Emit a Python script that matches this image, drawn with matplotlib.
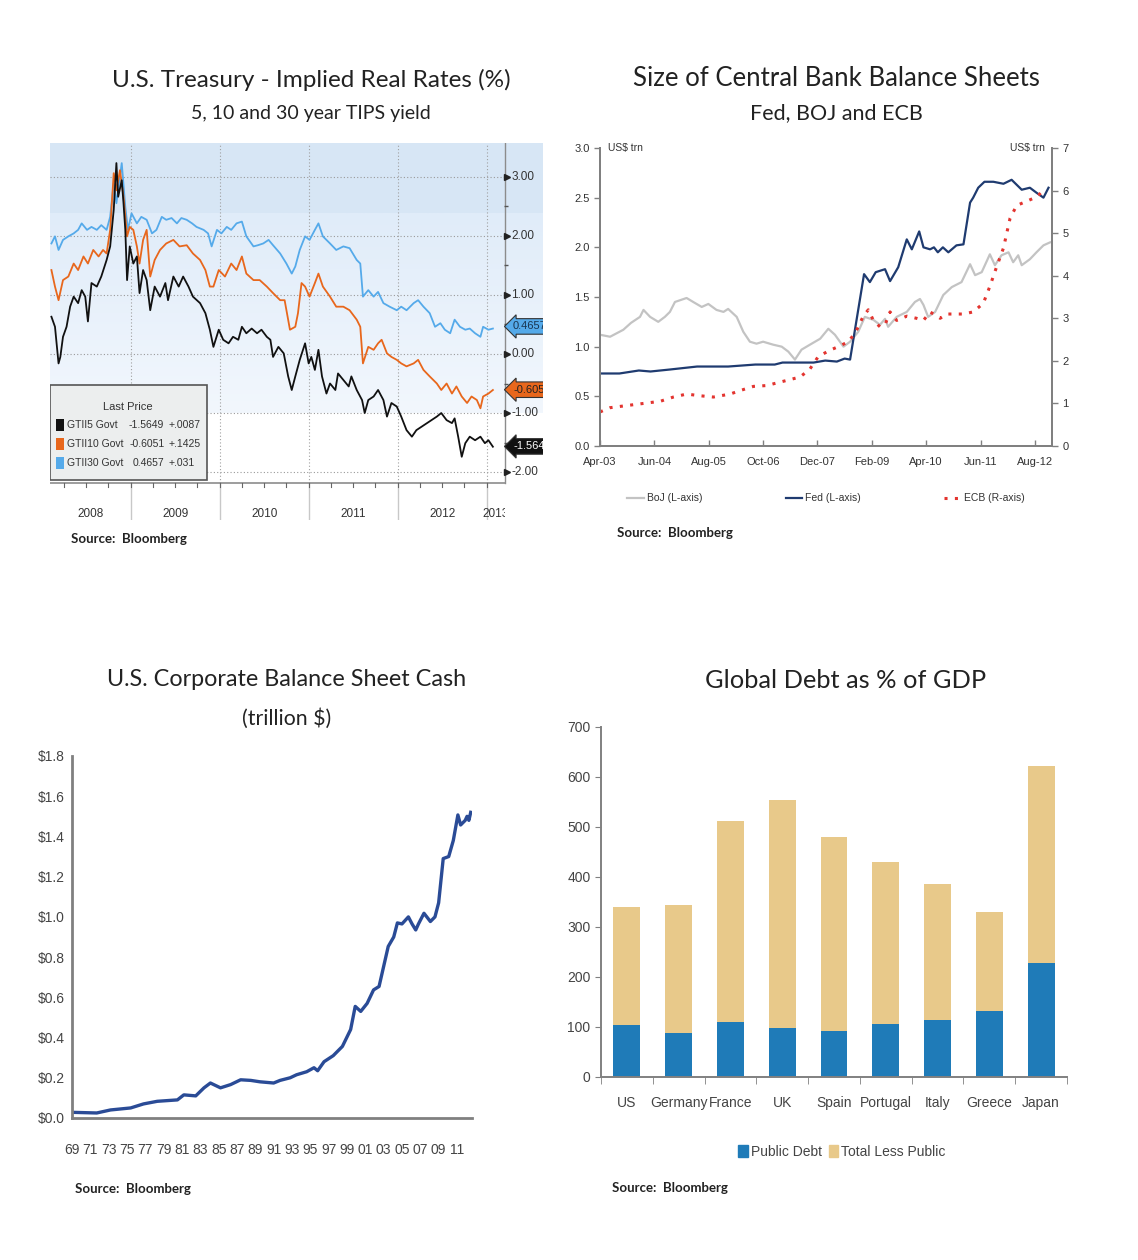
import numpy as np
import matplotlib
matplotlib.use("Agg")
import matplotlib.pyplot as plt
import matplotlib.patches as mpatches
from matplotlib.colors import LinearSegmentedColormap

# --- panel 1: TIPS yields (decimal years, %) ---
tips5_t = [2008.11, 2008.15, 2008.19, 2008.21, 2008.24, 2008.28, 2008.32, 2008.36, 2008.41, 2008.45,
           2008.49, 2008.52, 2008.56, 2008.62, 2008.67, 2008.73, 2008.77, 2008.81, 2008.84, 2008.86,
           2008.90, 2008.92, 2008.94, 2008.96, 2008.99, 2009.03, 2009.07, 2009.10, 2009.14, 2009.18,
           2009.22, 2009.27, 2009.33, 2009.39, 2009.42, 2009.48, 2009.54, 2009.59, 2009.65, 2009.70,
           2009.78, 2009.84, 2009.89, 2009.93, 2009.99, 2010.04, 2010.10, 2010.15, 2010.21, 2010.25,
           2010.30, 2010.36, 2010.42, 2010.47, 2010.53, 2010.57, 2010.60, 2010.66, 2010.72, 2010.77,
           2010.81, 2010.85, 2010.90, 2010.96, 2011.00, 2011.03, 2011.07, 2011.11, 2011.15, 2011.20,
           2011.24, 2011.30, 2011.33, 2011.39, 2011.45, 2011.48, 2011.54, 2011.60, 2011.63, 2011.67,
           2011.73, 2011.78, 2011.84, 2011.88, 2011.93, 2011.99, 2012.04, 2012.10, 2012.16, 2012.21,
           2012.27, 2012.33, 2012.38, 2012.44, 2012.49, 2012.55, 2012.61, 2012.64, 2012.68, 2012.72,
           2012.76, 2012.81, 2012.87, 2012.93, 2012.98, 2013.02, 2013.07]
tips5_v = [0.63, 0.46, -0.16, -0.05, 0.29, 0.46, 0.80, 0.97, 0.86, 1.08,
           0.97, 0.55, 1.20, 1.14, 1.31, 1.59, 1.82, 2.44, 3.23, 2.66,
           2.94, 2.55, 2.10, 1.25, 1.82, 1.53, 1.65, 1.03, 1.42, 1.25,
           0.74, 1.14, 0.97, 1.20, 0.91, 1.31, 1.14, 1.31, 1.14, 0.97,
           0.86, 0.69, 0.41, 0.12, 0.41, 0.24, 0.18, 0.29, 0.24, 0.46,
           0.35, 0.43, 0.35, 0.41, 0.29, 0.24, -0.05, 0.12, 0.01, -0.38,
           -0.61, -0.38, -0.10, 0.18, -0.16, -0.05, -0.27, 0.07, -0.38, -0.67,
           -0.50, -0.61, -0.33, -0.44, -0.55, -0.38, -0.61, -0.78, -1.00, -0.78,
           -0.72, -0.61, -0.78, -1.06, -0.83, -0.89, -1.06, -1.29, -1.40, -1.29,
           -1.23, -1.17, -1.12, -1.06, -1.00, -1.12, -1.17, -1.09, -1.40, -1.74,
           -1.51, -1.40, -1.46, -1.40, -1.51, -1.46, -1.57]

tips10_t = [2008.11, 2008.15, 2008.19, 2008.24, 2008.30, 2008.36, 2008.41, 2008.47, 2008.52, 2008.58,
            2008.64, 2008.69, 2008.73, 2008.77, 2008.81, 2008.84, 2008.88, 2008.92, 2008.96, 2008.99,
            2009.03, 2009.07, 2009.10, 2009.14, 2009.18, 2009.22, 2009.27, 2009.33, 2009.40, 2009.48,
            2009.55, 2009.63, 2009.70, 2009.78, 2009.84, 2009.89, 2009.93, 2009.99, 2010.06, 2010.13,
            2010.19, 2010.25, 2010.30, 2010.38, 2010.45, 2010.53, 2010.60, 2010.68, 2010.73, 2010.79,
            2010.85, 2010.88, 2010.92, 2010.96, 2011.01, 2011.07, 2011.11, 2011.16, 2011.24, 2011.31,
            2011.39, 2011.46, 2011.54, 2011.58, 2011.61, 2011.67, 2011.73, 2011.78, 2011.82, 2011.88,
            2011.93, 2011.99, 2012.04, 2012.10, 2012.18, 2012.23, 2012.29, 2012.36, 2012.44, 2012.49,
            2012.55, 2012.61, 2012.66, 2012.72, 2012.78, 2012.83, 2012.89, 2012.93, 2012.96, 2013.02,
            2013.07]
tips10_v = [1.42, 1.14, 0.91, 1.25, 1.31, 1.53, 1.42, 1.65, 1.53, 1.76,
            1.65, 1.76, 1.70, 2.10, 3.06, 2.77, 3.11, 2.66, 1.99, 2.15,
            2.10, 1.82, 1.53, 1.93, 2.10, 1.31, 1.59, 1.76, 1.87, 1.93,
            1.82, 1.84, 1.70, 1.59, 1.42, 1.14, 1.14, 1.42, 1.31, 1.53,
            1.42, 1.65, 1.36, 1.25, 1.25, 1.14, 1.03, 0.91, 0.91, 0.41,
            0.46, 0.69, 1.20, 1.14, 0.97, 1.20, 1.36, 1.14, 0.97, 0.80,
            0.80, 0.74, 0.58, 0.46, -0.16, 0.12, 0.07, 0.18, 0.24, 0.01,
            -0.05, -0.10, -0.16, -0.21, -0.16, -0.10, -0.27, -0.38, -0.50, -0.61,
            -0.50, -0.67, -0.55, -0.72, -0.83, -0.72, -0.78, -0.92, -0.72, -0.67,
            -0.61]

tips30_t = [2008.11, 2008.15, 2008.19, 2008.24, 2008.30, 2008.36, 2008.41, 2008.45, 2008.51, 2008.56,
            2008.62, 2008.67, 2008.73, 2008.77, 2008.81, 2008.84, 2008.90, 2008.94, 2008.97, 2009.01,
            2009.07, 2009.12, 2009.18, 2009.24, 2009.29, 2009.35, 2009.40, 2009.46, 2009.52, 2009.57,
            2009.63, 2009.69, 2009.74, 2009.82, 2009.87, 2009.91, 2009.97, 2010.02, 2010.08, 2010.13,
            2010.19, 2010.25, 2010.30, 2010.38, 2010.43, 2010.49, 2010.55, 2010.60, 2010.68, 2010.75,
            2010.81, 2010.85, 2010.90, 2010.96, 2011.01, 2011.07, 2011.11, 2011.16, 2011.24, 2011.31,
            2011.39, 2011.46, 2011.54, 2011.58, 2011.61, 2011.67, 2011.73, 2011.78, 2011.84, 2011.91,
            2011.99, 2012.04, 2012.10, 2012.18, 2012.23, 2012.29, 2012.36, 2012.42, 2012.48, 2012.53,
            2012.59, 2012.64, 2012.70, 2012.76, 2012.81, 2012.87, 2012.93, 2012.96, 2013.02, 2013.07]
tips30_v = [1.87, 1.99, 1.76, 1.93, 1.99, 2.04, 2.10, 2.21, 2.10, 2.15,
            2.10, 2.18, 2.10, 2.32, 2.89, 2.55, 3.23, 2.49, 2.10, 2.38,
            2.21, 2.32, 2.27, 2.04, 2.10, 2.32, 2.27, 2.30, 2.21, 2.30,
            2.27, 2.21, 2.15, 2.10, 2.04, 1.82, 2.10, 2.04, 2.15, 2.10,
            2.21, 2.24, 1.99, 1.82, 1.84, 1.87, 1.93, 1.84, 1.70, 1.53,
            1.36, 1.48, 1.76, 1.99, 1.93, 2.10, 2.21, 1.99, 1.87, 1.76,
            1.82, 1.79, 1.59, 1.53, 0.97, 1.08, 0.97, 1.05, 0.86, 0.80,
            0.74, 0.80, 0.74, 0.86, 0.91, 0.80, 0.69, 0.46, 0.52, 0.41,
            0.35, 0.58, 0.46, 0.41, 0.43, 0.35, 0.29, 0.46, 0.41, 0.43]

tips_names = ["GTII5 Govt", "GTII10 Govt", "GTII30 Govt"]
last_price = [-1.5649, -0.6051, 0.4657]
last_change = ["+.0087", "+.1425", "+.031"]
rate_ticks = [-2, -1, 0, 1, 2, 3]
years1 = [2008, 2009, 2010, 2011, 2012, 2013]

# --- panel 2: central bank balance sheets (months since Apr-03, US$ trn) ---
fed_m = [0, 5, 10, 13, 18, 25, 33, 40, 45, 47, 55, 58, 61, 63, 64.4, 68, 69.5, 71, 73.4, 74.7,
         76.8, 79, 80.3, 82.2, 83.3, 85, 86, 87, 88.3, 89.7, 91.8, 93.6, 95.3, 96.1, 97.4, 99,
         101.3, 103.9, 106, 108.6, 110.7, 112.4, 114.2, 115.5]
fed_v = [0.73, 0.73, 0.76, 0.75, 0.77, 0.80, 0.80, 0.82, 0.82, 0.84, 0.84, 0.86, 0.85, 0.88, 0.87,
         1.73, 1.65, 1.75, 1.78, 1.66, 1.80, 2.08, 1.98, 2.16, 2.00, 1.98, 2.00, 1.95, 2.00, 1.95,
         2.02, 2.03, 2.45, 2.50, 2.60, 2.66, 2.66, 2.64, 2.68, 2.58, 2.60, 2.55, 2.50, 2.60]
boj_m = [0, 2.6, 6, 8, 10.3, 11.2, 12.9, 15, 16.7, 18, 19.3, 22.3, 24, 26.2, 27.9, 30, 31.8, 33,
         35.2, 36.9, 38.6, 40.3, 42, 44.6, 46.8, 48.5, 50.2, 51.9, 54.5, 56.7, 58.8, 60.5, 62.7,
         64.4, 66.5, 68.2, 70.4, 72.1, 73.4, 74.2, 76.4, 79, 81.1, 82.4, 83.3, 84.5, 86.3, 88.4,
         90.6, 93.1, 95.3, 96.6, 98.3, 100.4, 101.7, 103.4, 105.2, 106.4, 107.7, 108.6, 110.7,
         112.4, 114.2, 115.9]
boj_v = [1.12, 1.10, 1.17, 1.24, 1.30, 1.37, 1.30, 1.25, 1.30, 1.35, 1.45, 1.49, 1.45, 1.40, 1.43,
         1.37, 1.35, 1.38, 1.30, 1.15, 1.05, 1.03, 1.05, 1.02, 1.00, 0.95, 0.87, 0.97, 1.03, 1.08,
         1.18, 1.12, 1.00, 1.05, 1.15, 1.30, 1.27, 1.22, 1.28, 1.20, 1.30, 1.35, 1.45, 1.48, 1.42,
         1.30, 1.35, 1.52, 1.60, 1.65, 1.83, 1.72, 1.75, 1.93, 1.82, 1.92, 1.95, 1.85, 1.92, 1.82,
         1.88, 1.95, 2.02, 2.05]
ecb_m = [0, 2.6, 6.9, 11.2, 15.5, 18.9, 22.3, 25.8, 29.2, 33.5, 36, 39.5, 42.9, 47.2, 51.5, 54,
         56.2, 59.2, 61.8, 63.9, 65.7, 67.8, 69.1, 70.4, 72.1, 73.4, 74.7, 76.4, 79, 81.5, 83.3, 85,
         87.6, 89.3, 93.6, 96.1, 98.7, 100.4, 102.1, 103.9, 105.6, 107.3, 109.9, 112.4, 114.2]
ecb_v = [0.80, 0.90, 0.95, 1.00, 1.05, 1.15, 1.22, 1.18, 1.15, 1.22, 1.30, 1.40, 1.42, 1.52, 1.62,
         1.80, 2.10, 2.25, 2.35, 2.45, 2.65, 3.05, 3.20, 2.95, 2.80, 2.85, 3.15, 2.95, 3.05, 3.00,
         2.95, 3.15, 3.00, 3.10, 3.10, 3.15, 3.35, 3.75, 4.20, 4.65, 5.35, 5.65, 5.75, 5.85, 6.00]
cb_tick_m = [0, 14, 28, 42, 56, 70, 84, 98, 112]
cb_tick_lbl = ["Apr-03", "Jun-04", "Aug-05", "Oct-06", "Dec-07", "Feb-09", "Apr-10", "Jun-11", "Aug-12"]

# --- panel 3: corporate cash (year, trillion $) ---
cash_year = [1969.2, 1971.7, 1973.2, 1975.4, 1976.8, 1978.3, 1980.5, 1981.2, 1982.5, 1983.4,
             1984.1, 1985.2, 1986.3, 1987.4, 1988.5, 1989.5, 1991.0, 1991.7, 1992.8, 1993.5,
             1994.6, 1995.4, 1995.8, 1996.5, 1997.5, 1998.5, 1999.4, 1999.9, 2000.5, 2001.2,
             2001.9, 2002.5, 2003.5, 2004.1, 2004.5, 2005.0, 2005.7, 2006.1, 2006.5, 2006.8,
             2007.4, 2008.1, 2008.6, 2009.0, 2009.5, 2010.1, 2010.6, 2011.1, 2011.4, 2011.9,
             2012.1, 2012.3, 2012.5]
cash_val = [0.028, 0.025, 0.04, 0.05, 0.07, 0.083, 0.09, 0.115, 0.11, 0.15,
            0.174, 0.15, 0.166, 0.19, 0.187, 0.18, 0.174, 0.187, 0.20, 0.215,
            0.23, 0.25, 0.235, 0.28, 0.31, 0.356, 0.44, 0.555, 0.53, 0.57,
            0.637, 0.654, 0.853, 0.90, 0.97, 0.965, 1.00, 0.965, 0.935, 0.965,
            1.018, 0.977, 1.00, 1.07, 1.29, 1.30, 1.38, 1.507, 1.457, 1.48,
            1.50, 1.48, 1.52]

# --- panel 4: global debt as % of GDP ---
countries = ["US", "Germany", "France", "UK", "Spain", "Portugal", "Italy", "Greece", "Japan"]
public_debt = [105, 88, 110, 98, 92, 107, 114, 132, 228]
total_debt = [341, 345, 512, 554, 481, 431, 386, 331, 622]

W, H = 1138, 1260
plt.rcParams['font.family'] = ['Lato', 'DejaVu Sans']
NARROW = ['Liberation Sans Narrow', 'Liberation Sans', 'DejaVu Sans']


def fx(px):
    return px / W


def fy(py):
    return 1 - py / H


fig = plt.figure(figsize=(W / 100, H / 100), dpi=100)
fig.patch.set_facecolor('white')

# ================= panel 1 =================
fig.text(fx(311), fy(80), "U.S. Treasury - Implied Real Rates (%)", ha='center', va='center', fontsize=17.5, color='#222')
fig.text(fx(311), fy(114), "5, 10 and 30 year TIPS yield", ha='center', va='center', fontsize=14, color='#222')

ax1 = fig.add_axes([fx(50), fy(520), 493 / W, 377 / H])
x0, x1, xr = 2008.094, 2013.633, 2013.206
ybot, ytop, yax = -2.81, 3.57, -2.18
ax1.axis('off')
ax1.axhspan(2.37, ytop, color='#d7e6f5', lw=0, zorder=0)
grad = np.linspace(0, 1, 100).reshape(-1, 1)
cmap_bg = LinearSegmentedColormap.from_list('bg', ['#f2f7fd', '#e0ecf9'])
ax1.imshow(grad, extent=[x0, x1, -1.0, 2.37], origin='lower', cmap=cmap_bg, aspect='auto', zorder=0)

for v in rate_ticks:
    ax1.plot([x0, xr], [v, v], ls=(0, (1, 2)), color='#9a9a9a', lw=0.8, zorder=1)
for yr in years1[1:]:
    ax1.plot([yr, yr], [yax, ytop], ls=(0, (1, 2)), color='#a0a0a0', lw=0.8, zorder=1)
    ax1.plot([yr, yr], [ybot, yax], color='#c8c8c8', lw=1, zorder=1)
ax1.plot([x0, xr], [yax, yax], color='#8c8c8c', lw=1.2, zorder=2)
for q in np.arange(2008.25, xr, 0.25):
    ax1.plot([q, q], [yax, yax - 0.07], color='#666', lw=0.8, zorder=2)
ax1.plot([xr, xr], [yax, ytop], color='#8c8c8c', lw=1, zorder=2)
ax1.plot([xr + 0.025] * len(rate_ticks), rate_ticks, marker='>', ls='none', color='#222', ms=4, zorder=3)
ax1.plot([xr + 0.015] * 5, [v + 0.5 for v in rate_ticks[:-1]], marker='_', ls='none', color='#555', ms=3, zorder=3)
for v in rate_ticks:
    ax1.text(xr + 0.07, v, f"{v:.2f}", ha='left', va='center', fontsize=8.5, color='#333', family=NARROW)

clip_rect = mpatches.Rectangle((x0, ybot), xr - x0, ytop - ybot, transform=ax1.transData)
for yr in years1:
    a, b = max(yr, x0), min(yr + 1, xr)
    t = ax1.text((a + b) / 2, -2.71, str(yr), ha='center', va='center', fontsize=8.5, color='#333',
                 family=NARROW, clip_on=True)
    t.set_clip_path(clip_rect)

tips_colors = ['#111111', '#e8671c', '#55aaea']
ax1.plot(tips30_t, tips30_v, color=tips_colors[2], lw=1.3, zorder=4)
ax1.plot(tips10_t, tips10_v, color=tips_colors[1], lw=1.3, zorder=4)
ax1.plot(tips5_t, tips5_v, color=tips_colors[0], lw=1.3, zorder=4)

tag_text = ['white', '#222', '#1a3550']
for v, c, tc in zip(last_price, tips_colors, tag_text):
    ax1.text(xr + 0.09, v, f"{v:.4f}"[:6], ha='left', va='center', fontsize=8, color=tc, family=NARROW,
             clip_on=True, zorder=6,
             bbox=dict(boxstyle='larrow,pad=0.25', fc=c, ec='#333', lw=0.8))

ax1.add_patch(mpatches.Rectangle((0.0, 0.106), 0.318, 0.252, transform=ax1.transAxes,
                                 fc='#eceeee', ec='#555', lw=1.2, zorder=7))
ax1.text(0.158, 0.300, "Last Price", transform=ax1.transAxes, ha='center', va='center',
         fontsize=8, color='#333', family=NARROW, zorder=8)
for i in range(3):
    yy = 0.252 - i * 0.0505
    ax1.add_patch(mpatches.Rectangle((0.012, yy - 0.015), 0.016, 0.03, transform=ax1.transAxes,
                                     fc=tips_colors[i], ec='none', zorder=8))
    ax1.text(0.034, yy, tips_names[i], transform=ax1.transAxes, ha='left', va='center',
             fontsize=7.5, color='#333', family=NARROW, zorder=8)
    ax1.text(0.232, yy, f"{last_price[i]:.4f}", transform=ax1.transAxes, ha='right', va='center',
             fontsize=7.5, color='#333', family=NARROW, zorder=8)
    ax1.text(0.240, yy, last_change[i], transform=ax1.transAxes, ha='left', va='center',
             fontsize=7.5, color='#333', family=NARROW, zorder=8)
ax1.set_xlim(x0, x1)
ax1.set_ylim(ybot, ytop)
fig.text(fx(71), fy(539), "Source:  Bloomberg", ha='left', va='center', fontsize=9.5, fontweight='bold', color='#222')

# ================= panel 2 =================
fig.text(fx(836), fy(78), "Size of Central Bank Balance Sheets", ha='center', va='center', fontsize=18.5, color='#222')
fig.text(fx(836), fy(113), "Fed, BOJ and ECB", ha='center', va='center', fontsize=15.5, color='#222')

ax2 = fig.add_axes([fx(600), fy(446), 452 / W, 298 / H])
l_boj, = ax2.plot(boj_m, boj_v, color='#c3c3c3', lw=1.6)
l_fed, = ax2.plot(fed_m, fed_v, color='#1f3b70', lw=1.6)
ax2.set_xlim(0, 116.4)
ax2.set_ylim(0, 3)
ax2.set_yticks(np.arange(0, 3.01, 0.5))
ax2.set_yticklabels([f"{v:.1f}" for v in np.arange(0, 3.01, 0.5)])
ax2.set_xticks(cb_tick_m)
ax2.set_xticklabels(cb_tick_lbl)
ax2r = ax2.twinx()
l_ecb, = ax2r.plot(ecb_m, ecb_v, color='#e3342f', lw=2.2, ls=(0, (1, 2.4)))
ax2r.set_ylim(0, 7)
ax2r.set_yticks(range(0, 8))
for a in (ax2, ax2r):
    for s in a.spines.values():
        s.set_color('#808080')
        s.set_linewidth(1.4)
    a.spines['top'].set_visible(False)
    a.tick_params(labelsize=8, colors='#808080', labelcolor='#333', length=4, width=1)
    for lab in a.get_xticklabels() + a.get_yticklabels():
        lab.set_family(NARROW)
ax2.tick_params(axis='x', direction='in', pad=8)
ax2.text(0.018, 1.0, "US$ trn", transform=ax2.transAxes, ha='left', va='center', fontsize=7.5, color='#333', family=NARROW)
ax2.text(0.985, 1.0, "US$ trn", transform=ax2.transAxes, ha='right', va='center', fontsize=7.5, color='#333', family=NARROW)
leg2 = ax2.legend([l_boj, l_fed, l_ecb], ["BoJ (L-axis)", "Fed (L-axis)", "ECB (R-axis)"],
                  loc='center', bbox_to_anchor=(0.5, -0.175), ncol=3, frameon=False,
                  handlelength=1.6, handletextpad=0.3, columnspacing=8,
                  prop={'family': NARROW, 'size': 7.5})
for txt in leg2.get_texts():
    txt.set_color('#333')
fig.text(fx(617), fy(533), "Source:  Bloomberg", ha='left', va='center', fontsize=9.5, fontweight='bold', color='#222')

# ================= panel 3 =================
fig.text(fx(287), fy(679), "U.S. Corporate Balance Sheet Cash", ha='center', va='center', fontsize=16.8, color='#222')
fig.text(fx(287), fy(719), "(trillion $)", ha='center', va='center', fontsize=15.3, color='#222')

ax3 = fig.add_axes([fx(72), fy(1118), 400 / W, 362 / H])
ax3.plot(cash_year, cash_val, color='#2a4b96', lw=2.4)
ax3.set_xlim(1969, 2012.64)
ax3.set_ylim(0, 1.8)
yt3 = np.arange(0, 1.81, 0.2)
ax3.set_yticks(yt3)
ax3.set_yticklabels([f"${v:.1f}" for v in yt3])
xt3 = list(range(1969, 2012, 2))
ax3.set_xticks(xt3)
ax3.set_xticklabels([f"{y % 100:02d}" for y in xt3])
ax3.spines[['top', 'right']].set_visible(False)
for s in ('left', 'bottom'):
    ax3.spines[s].set_color('#808080')
    ax3.spines[s].set_linewidth(2)
ax3.tick_params(length=0, labelsize=10, labelcolor='#444')
ax3.tick_params(axis='x', pad=18)
ax3.tick_params(axis='y', pad=5)
for lab in ax3.get_xticklabels() + ax3.get_yticklabels():
    lab.set_family(NARROW)
fig.text(fx(75), fy(1189), "Source:  Bloomberg", ha='left', va='center', fontsize=9.5, fontweight='bold', color='#222')

# ================= panel 4 =================
fig.text(fx(846), fy(680), "Global Debt as % of GDP", ha='center', va='center', fontsize=18.3, color='#222')

ax4 = fig.add_axes([fx(601), fy(1077), 466 / W, 350 / H])
xpos = np.arange(len(countries))
rest = [t - p for t, p in zip(total_debt, public_debt)]
ax4.bar(xpos, public_debt, width=0.52, color='#1f7bb8')
ax4.bar(xpos, rest, width=0.52, bottom=public_debt, color='#e8c98a')
ax4.set_xlim(-0.5, 8.5)
ax4.set_ylim(0, 700)
ax4.set_yticks(range(0, 701, 100))
ax4.set_xticks(xpos)
ax4.set_xticklabels(countries)
ax4.set_xticks(np.arange(-0.5, 8.6, 1), minor=True)
ax4.spines[['top', 'right']].set_visible(False)
for s in ('left', 'bottom'):
    ax4.spines[s].set_color('#808080')
    ax4.spines[s].set_linewidth(1.4)
ax4.tick_params(axis='x', which='major', length=0, pad=14)
ax4.tick_params(axis='x', which='minor', length=5, color='#808080')
ax4.tick_params(axis='y', length=4, color='#808080')
ax4.tick_params(labelsize=10, labelcolor='#444')
for lab in ax4.get_xticklabels() + ax4.get_yticklabels():
    lab.set_family(NARROW)
h_pub = mpatches.Patch(color='#1f7bb8')
h_rest = mpatches.Patch(color='#e8c98a')
leg4 = ax4.legend([h_pub, h_rest], ["Public Debt", "Total Less Public"], loc='center',
                  bbox_to_anchor=(0.517, -0.214), ncol=2, frameon=False,
                  handlelength=0.7, handleheight=0.9, handletextpad=0.2, columnspacing=0.5,
                  prop={'family': NARROW, 'size': 10})
for txt in leg4.get_texts():
    txt.set_color('#444')
fig.text(fx(612), fy(1188), "Source:  Bloomberg", ha='left', va='center', fontsize=9.5, fontweight='bold', color='#222')

fig.savefig("out.png", dpi=100)
